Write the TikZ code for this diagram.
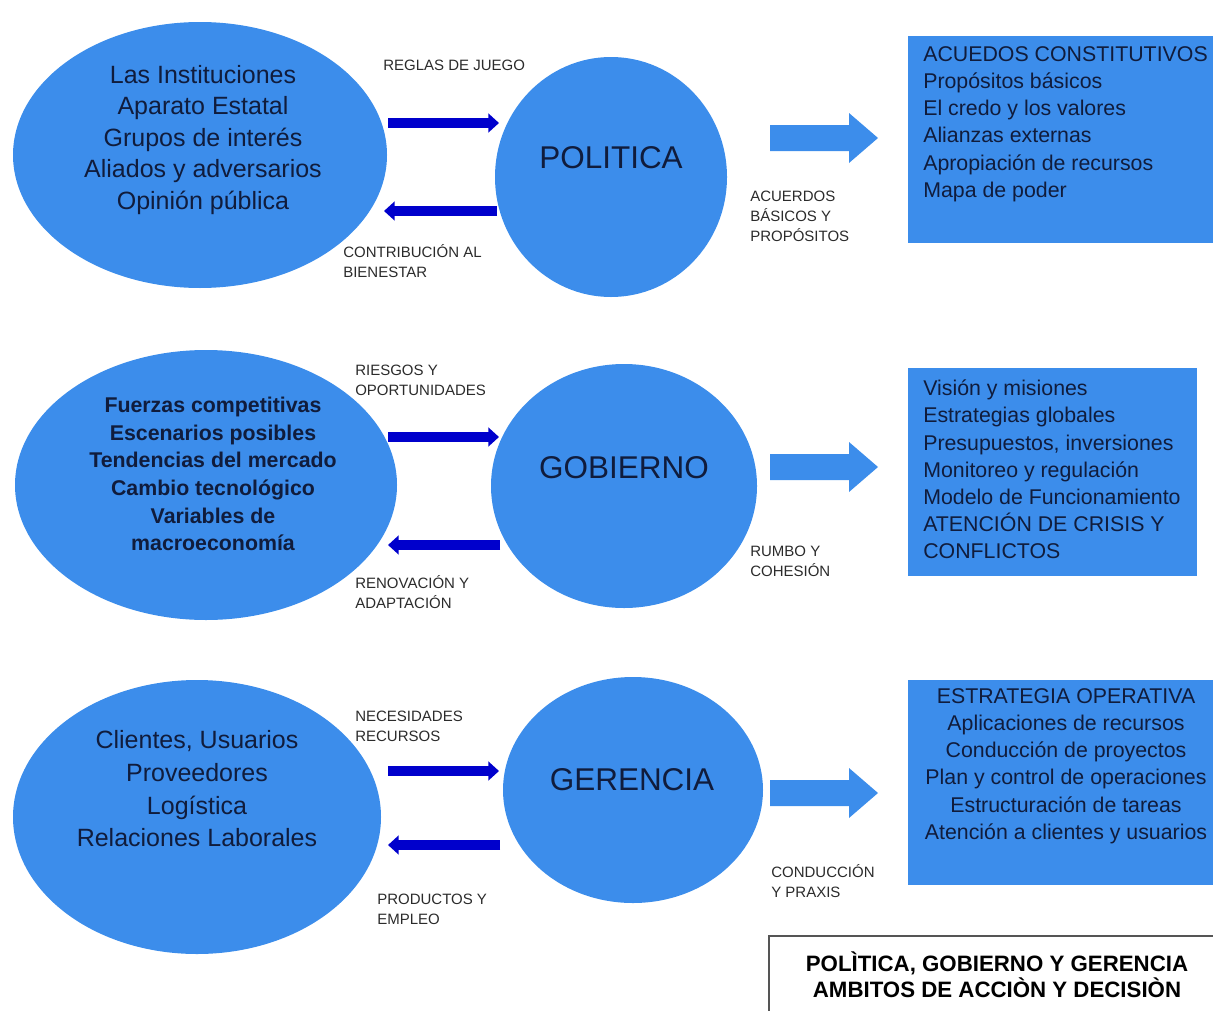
\documentclass[tikz,border=0pt]{standalone}
\usepackage{fontspec}
\setmainfont{Liberation Sans}
\usetikzlibrary{shapes.geometric,arrows.meta}
\definecolor{fillblue}{HTML}{3C8DEB}
\definecolor{darkblue}{HTML}{0000CC}
\definecolor{navy}{HTML}{101C3C}
\definecolor{labelgray}{HTML}{2B2B2B}
\definecolor{framegray}{HTML}{555555}
\begin{document}
\begin{tikzpicture}[x=0.75pt,y=-0.75pt,
  blob/.style={ellipse, fill=fillblue, draw=none, inner sep=0pt},
  bigtext/.style={inner sep=0pt, align=center, text=navy, font=\fontsize{18.75}{23.6}\selectfont},
  boldtext/.style={inner sep=0pt, align=center, text=navy, font=\fontsize{16}{20.7}\selectfont\bfseries},
  circtext/.style={inner sep=0pt, text=navy, font=\fontsize{23.6}{28}\selectfont},
  lbl/.style={inner sep=0pt, anchor=west, align=left, text=labelgray, font=\fontsize{11.25}{15}\selectfont},
  boxstyle/.style={rectangle, fill=fillblue, draw=none, inner sep=0pt},
  boxtext/.style={inner sep=0pt, text=navy, font=\fontsize{16}{20.4}\selectfont},
  darr/.style={draw=darkblue, line width=7pt, -{Triangle[length=8pt,width=14pt]}},
  blockarr/.style={fill=fillblue, draw=none}
]
\useasboundingbox (0,0) rectangle (1213,1010);
\clip (0,0) rectangle (1213,1010);

% ---------------- Row 1 ----------------
\node[blob, minimum width=280.5pt, minimum height=199.5pt] (e1) at (200,155) {};
\node[bigtext] (e1t) at (203,140) {Las Instituciones\\Aparato Estatal\\Grupos de interés\\Aliados y adversarios\\Opinión pública};
\node[blob, minimum width=174pt, minimum height=180pt] (c1) at (611,177) {};
\node[circtext] (c1t) at (611,158) {POLITICA};
\coordinate (r1a) at (388,123); \coordinate (r1b) at (499,123);
\coordinate (l1a) at (497,211); \coordinate (l1b) at (384,211);
\draw[darr] (r1a) -- (r1b);
\draw[darr] (l1a) -- (l1b);
\node[lbl] (t1a) at (383,65) {REGLAS DE JUEGO};
\node[lbl] (t1b) at (343,261.5) {CONTRIBUCIÓN AL\\BIENESTAR};
\fill[blockarr] (770,125) -- (849,125) -- (849,113) -- (878,138) -- (849,163) -- (849,151) -- (770,151) -- cycle;
\node[lbl] (t1c) at (750,216) {ACUERDOS\\BÁSICOS Y\\PROPÓSITOS};
\node[boxstyle, minimum width=234pt, minimum height=155.25pt] (b1) at (1064,139.5) {};
\node[boxtext, anchor=west, align=left] (b1t) at (923,124) {ACUEDOS CONSTITUTIVOS\\Propósitos básicos\\El credo y los valores\\Alianzas externas\\Apropiación de recursos\\Mapa de poder};

% ---------------- Row 2 ----------------
\node[blob, minimum width=286.5pt, minimum height=202.5pt] (e2) at (206,485) {};
\node[boldtext] (e2t) at (213,474) {Fuerzas competitivas\\Escenarios posibles\\Tendencias del mercado\\Cambio tecnológico\\Variables de\\macroeconomía};
\node[blob, minimum width=199.5pt, minimum height=183pt] (c2) at (624,486) {};
\node[circtext] (c2t) at (624,468) {GOBIERNO};
\coordinate (r2a) at (388,437); \coordinate (r2b) at (499,437);
\coordinate (l2a) at (500,545); \coordinate (l2b) at (388,545);
\draw[darr] (r2a) -- (r2b);
\draw[darr] (l2a) -- (l2b);
\node[lbl] (t2a) at (355,380.5) {RIESGOS Y\\OPORTUNIDADES};
\node[lbl] (t2b) at (355,592.5) {RENOVACIÓN Y\\ADAPTACIÓN};
\fill[blockarr] (770,454) -- (849,454) -- (849,442) -- (878,467) -- (849,492) -- (849,480) -- (770,480) -- cycle;
\node[lbl] (t2c) at (750,561.5) {RUMBO Y\\COHESIÓN};
\node[boxstyle, minimum width=216.75pt, minimum height=156pt] (b2) at (1052.5,472) {};
\node[boxtext, anchor=west, align=left] (b2t) at (923,469.5) {Visión y misiones\\Estrategias globales\\Presupuestos, inversiones\\Monitoreo y regulación\\Modelo de Funcionamiento\\ATENCIÓN DE CRISIS Y\\CONFLICTOS};

% ---------------- Row 3 ----------------
\node[blob, minimum width=276pt, minimum height=205.5pt] (e3) at (197,817) {};
\node[bigtext, font=\fontsize{18.75}{24.5}\selectfont] (e3t) at (197,789) {Clientes, Usuarios\\Proveedores\\Logística\\Relaciones Laborales};
\node[blob, minimum width=195pt, minimum height=169.5pt] (c3) at (633,790) {};
\node[circtext] (c3t) at (632,780) {GERENCIA};
\coordinate (r3a) at (388,771); \coordinate (r3b) at (499,771);
\coordinate (l3a) at (500,845); \coordinate (l3b) at (388,845);
\draw[darr] (r3a) -- (r3b);
\draw[darr] (l3a) -- (l3b);
\node[lbl] (t3a) at (355,726.5) {NECESIDADES\\RECURSOS};
\node[lbl] (t3b) at (377,909) {PRODUCTOS Y\\EMPLEO};
\fill[blockarr] (770,780) -- (849,780) -- (849,768) -- (878,793) -- (849,818) -- (849,806) -- (770,806) -- cycle;
\node[lbl] (t3c) at (771,881.5) {CONDUCCIÓN\\Y PRAXIS};
\node[boxstyle, minimum width=234pt, minimum height=153.75pt] (b3) at (1064,782.5) {};
\node[boxtext, align=center] (b3t) at (1066,766) {ESTRATEGIA OPERATIVA\\Aplicaciones de recursos\\Conducción de proyectos\\Plan y control de operaciones\\Estructuración de tareas\\Atención a clientes y usuarios};

% ---------------- Title ----------------
\node[rectangle, draw=framegray, line width=1.1pt, fill=white, minimum width=342pt, minimum height=63pt, inner sep=0pt] (tb) at (997,978) {};
\node[inner sep=0pt, align=center, text=black, font=\fontsize{16.7}{19.5}\selectfont\bfseries] (tbt) at (997,975) {POLÌTICA, GOBIERNO Y GERENCIA\\AMBITOS DE ACCIÒN Y DECISIÒN};
\end{tikzpicture}
\end{document}
